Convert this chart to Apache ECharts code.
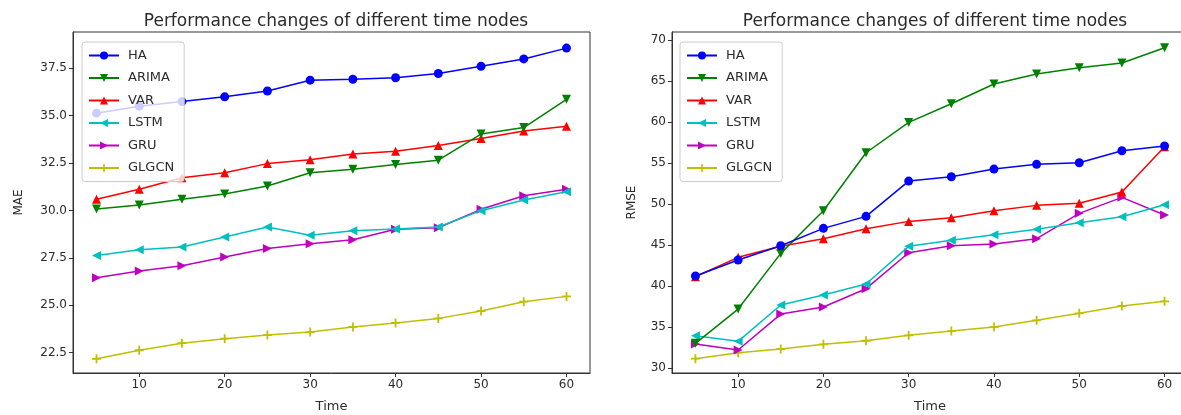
<!DOCTYPE html>
<html>
<head>
<meta charset="utf-8">
<title>Performance changes</title>
<script src="https://cdn.jsdelivr.net/npm/echarts@6/dist/echarts.min.js"></script>
<style>
  html, body { margin: 0; padding: 0; background: #fff; }
  #chart { width: 1181px; height: 415px; }
</style>
</head>
<body>
<div id="chart"></div>
<script>
// time nodes
var times = [5, 10, 15, 20, 25, 30, 35, 40, 45, 50, 55, 60];

// MAE (left plot)
var haMae    = [35.13, 35.5, 35.74, 35.99, 36.3, 36.87, 36.92, 37.0, 37.22, 37.6, 37.99, 38.56];
var arimaMae = [30.08, 30.29, 30.59, 30.87, 31.29, 31.99, 32.17, 32.42, 32.65, 34.03, 34.37, 35.86];
var varMae   = [30.59, 31.12, 31.73, 31.99, 32.47, 32.68, 32.98, 33.12, 33.42, 33.79, 34.19, 34.44];
var lstmMae  = [27.62, 27.93, 28.07, 28.6, 29.13, 28.69, 28.93, 29.02, 29.13, 29.99, 30.55, 30.99];
var gruMae   = [26.45, 26.81, 27.09, 27.55, 28.0, 28.25, 28.46, 29.01, 29.09, 30.06, 30.78, 31.12];
var glgcnMae = [22.18, 22.63, 23.0, 23.24, 23.43, 23.59, 23.86, 24.07, 24.31, 24.7, 25.19, 25.47];

// RMSE (right plot)
var haRmse    = [41.24, 43.19, 44.93, 47.05, 48.51, 52.81, 53.34, 54.27, 54.85, 55.04, 56.5, 57.08];
var arimaRmse = [33.04, 37.22, 44.0, 49.2, 56.26, 59.96, 62.23, 64.63, 65.85, 66.61, 67.19, 69.05];
var varRmse   = [41.16, 43.52, 44.86, 45.79, 47.0, 47.9, 48.35, 49.2, 49.85, 50.1, 51.47, 56.99];
var lstmRmse  = [33.97, 33.29, 37.71, 38.93, 40.27, 44.86, 45.59, 46.27, 46.93, 47.74, 48.47, 49.93];
var gruRmse   = [32.96, 32.23, 36.61, 37.47, 39.7, 44.08, 44.93, 45.14, 45.79, 48.88, 50.83, 48.67];
var glgcnRmse = [31.17, 31.9, 32.35, 32.92, 33.36, 34.02, 34.54, 35.03, 35.85, 36.7, 37.59, 38.16];

// tick labels
var xTicks = [10, 20, 30, 40, 50, 60];
var maeTicks = [22.5, 25.0, 27.5, 30.0, 32.5, 35.0, 37.5];
var rmseTicks = [30, 35, 40, 45, 50, 55, 60, 65, 70];

var names = ["HA", "ARIMA", "VAR", "LSTM", "GRU", "GLGCN"];
var maeData = [haMae, arimaMae, varMae, lstmMae, gruMae, glgcnMae];
var rmseData = [haRmse, arimaRmse, varRmse, lstmRmse, gruRmse, glgcnRmse];

// matplotlib style per model: colour + marker
var styles = [
  { color: "#0000ff", symbol: "circle", rotate: 0, size: 9 },
  { color: "#008000", symbol: "triangle", rotate: 180, size: 9 },
  { color: "#ff0000", symbol: "triangle", rotate: 0, size: 9 },
  { color: "#00bfbf", symbol: "triangle", rotate: 90, size: 9 },
  { color: "#bf00bf", symbol: "triangle", rotate: -90, size: 9 },
  { color: "#bfbf00", symbol: "path://M4,0H6V4H10V6H6V10H4V6H0V4H4Z", rotate: 0, size: 9 },
];

var textColor = "#2b2b2b";
var frameColor = "#333";

function pairs(values) {
  return times.map(function (t, i) {
    return [t, values[i]];
  });
}

function makeSeries(dataList, axisIndex) {
  return dataList.map(function (values, i) {
    var s = styles[i];
    return {
      name: names[i],
      type: "line",
      xAxisIndex: axisIndex,
      yAxisIndex: axisIndex,
      data: pairs(values),
      symbol: s.symbol,
      symbolSize: s.size,
      symbolRotate: s.rotate,
      showAllSymbol: true,
      lineStyle: { color: s.color, width: 1.5 },
      itemStyle: { color: s.color, borderWidth: 0 },
      emphasis: { disabled: true },
      z: 2 + (dataList.length - i) * 0.01,
    };
  });
}

function makeXAxis(gridIndex) {
  return {
    type: "value",
    gridIndex: gridIndex,
    min: 2.25,
    max: 62.75,
    name: "Time",
    nameLocation: "middle",
    nameGap: 27,
    nameTextStyle: { color: textColor, fontSize: 13, fontFamily: "DejaVu Sans" },
    axisLine: { show: true, lineStyle: { color: frameColor, width: 1 } },
    axisTick: { show: true, length: 4, customValues: xTicks, lineStyle: { color: frameColor } },
    axisLabel: { customValues: xTicks, color: textColor, fontSize: 12, fontFamily: "DejaVu Sans", margin: 6 },
    splitLine: { show: false },
  };
}

function makeYAxis(gridIndex, name, min, max, ticks, digits, gap) {
  return {
    type: "value",
    gridIndex: gridIndex,
    min: min,
    max: max,
    name: name,
    nameLocation: "middle",
    nameGap: gap,
    nameTextStyle: { color: textColor, fontSize: 12, fontFamily: "DejaVu Sans" },
    axisLine: { show: true, lineStyle: { color: frameColor, width: 1 } },
    axisTick: { show: true, length: 4, customValues: ticks, lineStyle: { color: frameColor } },
    axisLabel: {
      customValues: ticks,
      color: textColor,
      fontSize: 12,
      fontFamily: "DejaVu Sans",
      margin: 6,
      formatter: function (v) {
        return v.toFixed(digits);
      },
    },
    splitLine: { show: false },
  };
}

function makeLegend(left) {
  return {
    orient: "vertical",
    left: left,
    top: 42,
    data: names,
    selectedMode: false,
    itemWidth: 30,
    itemHeight: 10,
    itemGap: 9.5,
    padding: [7, 10, 7, 6],
    borderColor: "#cccccc",
    borderWidth: 1,
    borderRadius: 3,
    backgroundColor: "rgba(255,255,255,0.8)",
    textStyle: { color: textColor, fontSize: 13, fontFamily: "DejaVu Sans", padding: [0, 0, 0, 4] },
    z: 10,
  };
}

function makeGrid(left, width) {
  return {
    left: left,
    top: 32,
    width: width,
    height: 341,
    outerBoundsMode: "none", // keep the plot box where it is, names may sit outside
    show: true,
    borderColor: frameColor,
    borderWidth: 1,
    backgroundColor: "transparent",
  };
}

var chart = echarts.init(document.getElementById("chart"));
var option = {
  animation: false,
  backgroundColor: "#fff",
  title: [
    {
      text: "Performance changes of different time nodes",
      left: 331,
      top: 8,
      textAlign: "center",
      textStyle: { color: textColor, fontSize: 17, fontWeight: "normal", fontFamily: "DejaVu Sans" },
    },
    {
      text: "Performance changes of different time nodes",
      left: 930,
      top: 8,
      textAlign: "center",
      textStyle: { color: textColor, fontSize: 17, fontWeight: "normal", fontFamily: "DejaVu Sans" },
    },
  ],
  legend: [makeLegend(82), makeLegend(680)],
  grid: [makeGrid(73, 517), makeGrid(672, 516)],
  xAxis: [makeXAxis(0), makeXAxis(1)],
  yAxis: [
    makeYAxis(0, "MAE", 21.43, 39.41, maeTicks, 1, 48),
    makeYAxis(1, "RMSE", 29.43, 70.97, rmseTicks, 0, 34),
  ],
  series: makeSeries(maeData, 0).concat(makeSeries(rmseData, 1)),
};
chart.setOption(option);
</script>
</body>
</html>
